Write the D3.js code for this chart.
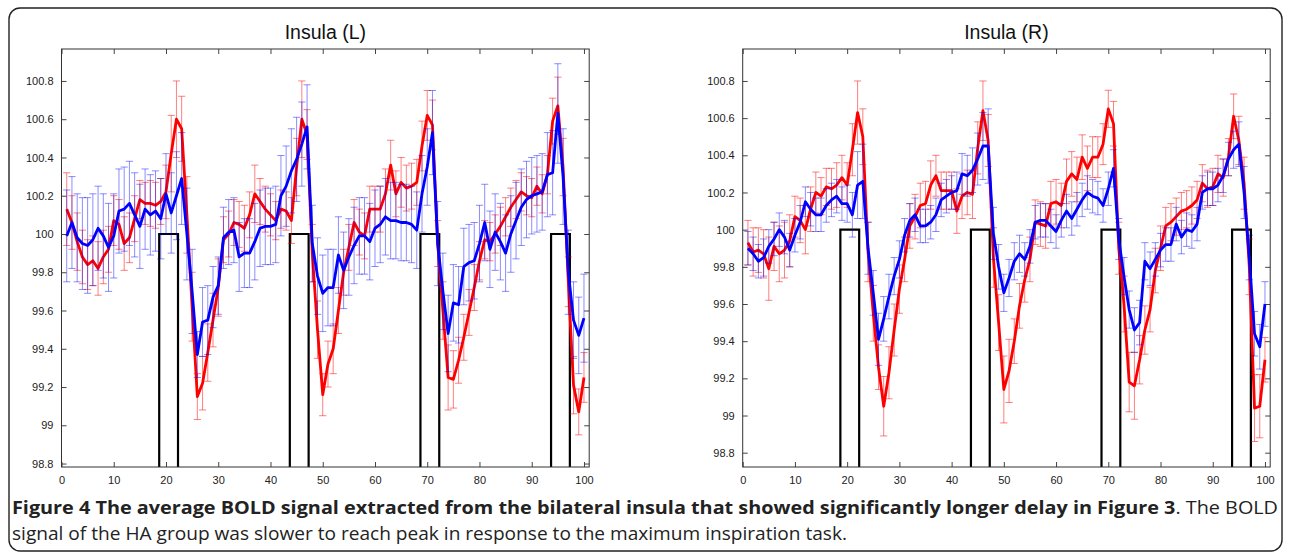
<!DOCTYPE html>
<html><head><meta charset="utf-8">
<script src="https://cdn.jsdelivr.net/npm/d3@7"></script>
<style>body{margin:0;background:#fff} svg{display:block}</style>
</head><body>
<svg id="c" width="1290" height="553"></svg>
<script>
// ---------- data ----------
const timePoints = d3.range(1, 101);
const xTicks = d3.range(0, 101, 10);
const yTicks = [98.8, 99, 99.2, 99.4, 99.6, 99.8, 100, 100.2, 100.4, 100.6, 100.8];
const yTickLabels = ["98.8", "99", "99.2", "99.4", "99.6", "99.8", "100", "100.2", "100.4", "100.6", "100.8"];
const titles = ["Insula (L)", "Insula (R)"];
const blockStart = [18.7, 43.7, 68.7, 93.7];
const blockEnd = [22.3, 47.3, 72.3, 97.3];
const stimOn = 100, stimOff = 98;

const leftRed = [100.13,100.06,99.96,99.88,99.84,99.86,99.82,99.88,99.92,100.07,
100.05,99.95,99.98,100.08,100.18,100.16,100.16,100.15,100.17,100.22,
100.42,100.60,100.55,100.10,99.62,99.15,99.22,99.38,99.55,99.72,
99.97,100.00,100.06,100.05,100.03,100.10,100.21,100.17,100.13,100.10,
100.07,100.13,100.12,100.07,100.35,100.60,100.52,99.90,99.50,99.16,
99.32,99.40,99.60,99.80,99.93,100.06,100.01,99.99,100.13,100.13,
100.13,100.21,100.36,100.21,100.27,100.24,100.25,100.27,100.46,100.62,
100.57,99.95,99.60,99.25,99.24,99.34,99.46,99.59,99.72,99.86,
99.97,99.96,100.00,100.04,100.09,100.14,100.18,100.22,100.20,100.19,
100.25,100.21,100.31,100.59,100.67,100.35,99.75,99.21,99.07,99.25];
const leftRedErr = [0.19,0.14,0.15,0.14,0.13,0.13,0.14,0.14,0.12,0.13,
0.13,0.14,0.13,0.12,0.10,0.11,0.12,0.12,0.12,0.14,
0.20,0.20,0.17,0.20,0.18,0.12,0.14,0.15,0.14,0.15,
0.12,0.12,0.12,0.12,0.12,0.12,0.15,0.12,0.12,0.11,
0.10,0.10,0.10,0.12,0.15,0.20,0.13,0.15,0.15,0.11,
0.12,0.13,0.12,0.12,0.12,0.12,0.12,0.12,0.12,0.12,
0.12,0.13,0.13,0.12,0.13,0.12,0.12,0.12,0.13,0.13,
0.13,0.12,0.15,0.17,0.15,0.12,0.12,0.12,0.12,0.10,
0.10,0.10,0.10,0.10,0.10,0.10,0.10,0.10,0.10,0.10,
0.10,0.10,0.10,0.12,0.15,0.15,0.13,0.15,0.12,0.13];
const leftBlue = [99.99,100.06,99.98,99.95,99.94,99.97,100.03,99.99,99.93,99.99,
100.12,100.13,100.16,100.10,100.04,100.13,100.10,100.12,100.08,100.21,
100.11,100.20,100.29,100.00,99.70,99.37,99.54,99.55,99.67,99.73,
99.98,100.01,100.02,99.88,99.90,99.90,99.96,100.03,100.04,100.04,
100.05,100.20,100.25,100.33,100.39,100.47,100.56,99.95,99.78,99.69,
99.72,99.72,99.89,99.81,99.88,99.94,99.99,99.99,99.96,100.03,
100.05,100.09,100.07,100.07,100.06,100.06,100.05,100.02,100.21,100.35,
100.53,99.95,99.70,99.48,99.64,99.63,99.83,99.85,99.86,99.95,
100.06,99.92,100.01,99.96,99.90,100.00,100.07,100.14,100.18,100.20,
100.21,100.22,100.31,100.32,100.63,100.30,99.80,99.55,99.47,99.56];
const leftBlueErr = [0.24,0.24,0.23,0.24,0.25,0.24,0.22,0.22,0.23,0.22,
0.22,0.22,0.22,0.22,0.22,0.21,0.21,0.21,0.21,0.21,
0.21,0.23,0.24,0.24,0.22,0.12,0.18,0.18,0.16,0.15,
0.16,0.17,0.17,0.18,0.18,0.18,0.20,0.20,0.20,0.20,
0.20,0.21,0.21,0.22,0.22,0.22,0.22,0.20,0.20,0.20,
0.20,0.20,0.20,0.20,0.20,0.20,0.20,0.20,0.20,0.20,
0.20,0.20,0.20,0.20,0.20,0.20,0.20,0.20,0.20,0.20,
0.22,0.22,0.20,0.20,0.20,0.20,0.20,0.20,0.20,0.20,
0.20,0.20,0.20,0.20,0.20,0.20,0.20,0.20,0.20,0.20,
0.20,0.20,0.22,0.22,0.26,0.25,0.22,0.20,0.20,0.23];

const rightRed = [99.93,99.88,99.89,99.87,99.79,99.91,99.87,99.89,99.94,100.07,
100.05,100.00,100.11,100.20,100.18,100.23,100.22,100.24,100.28,100.24,
100.43,100.63,100.50,99.88,99.55,99.26,99.05,99.23,99.46,99.68,
99.84,100.02,100.07,100.13,100.14,100.24,100.29,100.21,100.21,100.21,
100.10,100.18,100.20,100.19,100.44,100.64,100.48,99.85,99.50,99.14,
99.24,99.40,99.59,99.73,99.84,100.04,100.03,100.02,100.14,100.15,
100.13,100.26,100.30,100.27,100.39,100.33,100.39,100.39,100.46,100.65,
100.57,99.90,99.60,99.18,99.16,99.30,99.46,99.57,99.78,99.90,
100.02,100.04,100.07,100.10,100.11,100.13,100.16,100.25,100.22,100.23,
100.30,100.28,100.39,100.61,100.48,100.25,99.80,99.04,99.05,99.30];
const rightRedErr = [0.12,0.13,0.12,0.13,0.17,0.13,0.15,0.15,0.14,0.11,
0.12,0.13,0.12,0.11,0.10,0.10,0.11,0.12,0.12,0.12,
0.14,0.17,0.15,0.16,0.15,0.12,0.16,0.14,0.14,0.13,
0.12,0.12,0.12,0.12,0.12,0.13,0.11,0.10,0.10,0.10,
0.12,0.12,0.12,0.13,0.14,0.16,0.14,0.16,0.15,0.18,
0.17,0.12,0.12,0.12,0.12,0.12,0.12,0.12,0.12,0.12,
0.12,0.12,0.12,0.12,0.12,0.12,0.11,0.11,0.11,0.10,
0.12,0.14,0.15,0.16,0.18,0.13,0.13,0.12,0.12,0.12,
0.10,0.10,0.10,0.10,0.10,0.10,0.10,0.10,0.10,0.10,
0.10,0.10,0.10,0.12,0.13,0.14,0.15,0.18,0.17,0.12];
const rightBlue = [99.90,99.87,99.83,99.85,99.91,99.95,100.00,99.96,99.89,99.97,
100.04,100.15,100.11,100.08,100.08,100.13,100.16,100.18,100.14,100.14,
100.08,100.24,100.26,99.90,99.66,99.41,99.52,99.64,99.75,99.84,
99.97,100.05,100.08,100.02,100.02,100.04,100.08,100.16,100.18,100.20,
100.21,100.30,100.29,100.32,100.38,100.45,100.45,99.98,99.80,99.66,
99.74,99.83,99.87,99.84,99.91,100.04,100.05,100.05,100.02,99.99,
100.05,100.10,100.06,100.11,100.16,100.20,100.18,100.17,100.13,100.22,
100.33,99.95,99.75,99.57,99.46,99.50,99.83,99.79,99.84,99.89,
99.92,99.92,100.03,99.96,100.00,99.99,100.03,100.20,100.22,100.22,
100.24,100.29,100.38,100.43,100.46,100.20,99.85,99.44,99.37,99.60];
const rightBlueErr = [0.09,0.09,0.09,0.10,0.09,0.09,0.09,0.09,0.09,0.09,
0.09,0.08,0.09,0.09,0.09,0.09,0.09,0.09,0.09,0.10,
0.12,0.18,0.20,0.14,0.12,0.14,0.12,0.12,0.10,0.10,
0.09,0.09,0.09,0.09,0.09,0.09,0.09,0.09,0.09,0.09,
0.10,0.11,0.11,0.12,0.14,0.18,0.20,0.14,0.12,0.10,
0.10,0.10,0.10,0.09,0.09,0.09,0.09,0.09,0.09,0.09,
0.09,0.09,0.09,0.09,0.09,0.09,0.09,0.09,0.09,0.09,
0.10,0.11,0.10,0.10,0.12,0.12,0.10,0.09,0.09,0.09,
0.09,0.09,0.09,0.09,0.09,0.09,0.09,0.09,0.09,0.09,
0.09,0.09,0.09,0.10,0.12,0.14,0.12,0.12,0.12,0.12];

const captionBold = "Figure 4 The average BOLD signal extracted from the bilateral insula that showed significantly longer delay in Figure 3";
const captionRest1 = ". The BOLD";
const captionLine2 = "signal of the HA group was slower to reach peak in response to the maximum inspiration task.";

// ---------- drawing ----------
const svg = d3.select("#c");
svg.append("rect").attr("width", 1290).attr("height", 553).attr("fill", "#fff");

// outer frame
svg.append("rect").attr("x", 9).attr("y", 8).attr("width", 1273).attr("height", 543)
  .attr("rx", 11).attr("fill", "none").attr("stroke", "#222").attr("stroke-width", 1.4);

const panels = [
  {title: titles[0], red: leftRed, redErr: leftRedErr, blue: leftBlue, blueErr: leftBlueErr,
   x0: 61.5, x1: 589.2, yDom: [98.782, 100.967]},
  {title: titles[1], red: rightRed, redErr: rightRedErr, blue: rightBlue, blueErr: rightBlueErr,
   x0: 742.7, x1: 1270.2, yDom: [98.723, 100.972]}
];
const plotTop = 49, plotBottom = 467;

panels.forEach((p, pi) => {
  const x = d3.scaleLinear().domain([0, 101]).range([p.x0, p.x1]);
  const y = d3.scaleLinear().domain(p.yDom).range([plotBottom, plotTop]);
  const g = svg.append("g");
  const clipId = "clip" + pi;
  g.append("clipPath").attr("id", clipId).append("rect")
    .attr("x", p.x0).attr("y", plotTop).attr("width", p.x1 - p.x0).attr("height", plotBottom - plotTop);

  // axes
  const axB = d3.axisBottom(x).tickValues(xTicks).tickSize(-5).tickPadding(9).tickFormat(d3.format("d"));
  const axT = d3.axisTop(x).tickValues(xTicks).tickSize(-5).tickFormat("");
  const axL = d3.axisLeft(y).tickValues(yTicks).tickSize(-5).tickPadding(8).tickFormat((d, i) => yTickLabels[i]);
  const axR = d3.axisRight(y).tickValues(yTicks).tickSize(-5).tickFormat("");
  const styleAx = sel => {
    sel.select(".domain").remove();
    sel.selectAll("line").attr("stroke", "#444");
    sel.selectAll("text").attr("font-family", "Liberation Sans, Arial, sans-serif")
      .attr("font-size", 11).attr("fill", "#222");
  };
  g.append("g").attr("transform", `translate(0,${plotBottom})`).call(axB).call(styleAx);
  g.append("g").attr("transform", `translate(0,${plotTop})`).call(axT).call(styleAx);
  g.append("g").attr("transform", `translate(${p.x0},0)`).call(axL).call(styleAx);
  g.append("g").attr("transform", `translate(${p.x1},0)`).call(axR).call(styleAx);

  const data = g.append("g").attr("clip-path", `url(#${clipId})`);

  // stimulus boxcar
  const stim = [[0, stimOff]];
  blockStart.forEach((s, i) => {
    stim.push([s, stimOff], [s, stimOn], [blockEnd[i], stimOn], [blockEnd[i], stimOff]);
  });
  stim.push([101, stimOff]);
  data.append("path").attr("d", d3.line().x(d => x(d[0])).y(d => y(d[1]))(stim))
    .attr("fill", "none").attr("stroke", "#000").attr("stroke-width", 2.2);

  const cap = 3.6;
  const drawSeries = (vals, errs, color, barOpacity) => {
    const eb = data.append("g").attr("stroke", color).attr("stroke-opacity", barOpacity)
      .attr("stroke-width", 1).attr("fill", "none");
    const pts = timePoints.map((t, i) => ({t, v: vals[i], e: errs[i]}));
    eb.selectAll("path").data(pts).join("path")
      .attr("d", d => {
        const cx = x(d.t), yt = y(d.v + d.e), yb = y(d.v - d.e);
        return `M${cx},${yt}V${yb}M${cx - cap},${yt}H${cx + cap}M${cx - cap},${yb}H${cx + cap}`;
      });
    data.append("path").attr("d", d3.line().x(d => x(d.t)).y(d => y(d.v))(pts))
      .attr("fill", "none").attr("stroke", color).attr("stroke-width", 2.8)
      .attr("stroke-linejoin", "round");
  };
  drawSeries(p.red, p.redErr, "#ff0000", 0.5);
  drawSeries(p.blue, p.blueErr, "#0000ff", 0.45);

  // box
  g.append("rect").attr("x", p.x0).attr("y", plotTop).attr("width", p.x1 - p.x0).attr("height", plotBottom - plotTop)
    .attr("fill", "none").attr("stroke", "#333").attr("stroke-width", 1);

  // title
  g.append("text").attr("x", (p.x0 + p.x1) / 2).attr("y", 39).attr("text-anchor", "middle")
    .attr("font-family", "Liberation Sans, Arial, sans-serif").attr("font-size", 19.5).attr("fill", "#111")
    .text(p.title);
});

// caption
const cap1 = svg.append("text").attr("x", 12).attr("y", 514)
  .attr("font-family", "Open Sans, sans-serif").attr("font-size", 17.5).attr("fill", "#222")
  .attr("textLength", 1266).attr("lengthAdjust", "spacingAndGlyphs");
cap1.append("tspan").attr("font-weight", 700).text(captionBold);
cap1.append("tspan").attr("font-weight", 400).text(captionRest1);
svg.append("text").attr("x", 12).attr("y", 540)
  .attr("font-family", "Open Sans, sans-serif").attr("font-size", 17.5).attr("fill", "#222")
  .attr("textLength", 835).attr("lengthAdjust", "spacingAndGlyphs")
  .text(captionLine2);
</script>
</body></html>
